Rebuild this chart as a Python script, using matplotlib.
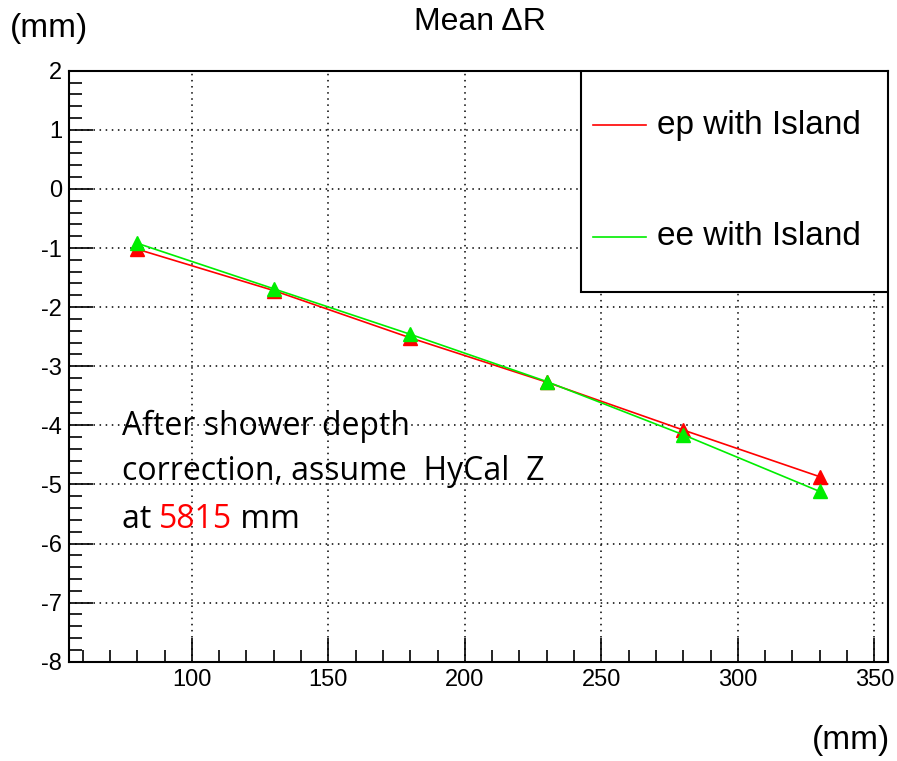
import numpy as np
import matplotlib.pyplot as plt
from matplotlib.lines import Line2D
from matplotlib.patches import Rectangle
from matplotlib.ticker import MultipleLocator

plt.rcParams['font.family'] = ['Liberation Sans', 'DejaVu Sans']
plt.rcParams['axes.unicode_minus'] = False

# data
dist = [80, 130, 180, 230, 280, 330]
ep_island = [-1.02, -1.72, -2.52, -3.27, -4.08, -4.87]
ee_island = [-0.92, -1.69, -2.46, -3.26, -4.16, -5.12]

fig = plt.figure(figsize=(8.97, 7.61), dpi=100)
ax = fig.add_axes([69/897, 1 - 661.7/761, 819/897, 591/761])

ax.plot(dist, ep_island, color='#ff0000', lw=1.2, marker='^', ms=10, mec='#ff0000', mfc='#ff0000', zorder=3)
ax.plot(dist, ee_island, color='#00ee00', lw=1.2, marker='^', ms=10, mec='#00ee00', mfc='#00ee00', zorder=4)

ax.set_xlim(55, 355)
ax.set_ylim(-8, 2)
ax.xaxis.set_major_locator(MultipleLocator(50))
ax.xaxis.set_minor_locator(MultipleLocator(10))
ax.yaxis.set_major_locator(MultipleLocator(1))
ax.yaxis.set_minor_locator(MultipleLocator(0.2))
ax.tick_params(which='both', direction='in', top=False, right=False, labelsize=17, width=1.2)
ax.tick_params(which='major', length=17, pad=5)
ax.tick_params(which='minor', length=9)
ax.grid(True, which='major', color='black', linestyle=(0, (1, 3)), lw=1.1)
for s in ax.spines.values():
    s.set_linewidth(1.5)

fig.text(480/897, 1 - 22/761, 'Mean ΔR', ha='center', va='center', fontsize=23)
fig.text(10/897, 1 - 28/761, '(mm)', ha='left', va='center', fontsize=24)
fig.text(890/897, 1 - 740/761, '(mm)', ha='right', va='center', fontsize=24)

# legend box, drawn like the ROOT one
ax.add_patch(Rectangle((0.625, 0.626), 0.375, 0.374, transform=ax.transAxes,
                       facecolor='white', edgecolor='black', lw=1.5, zorder=5))
for y, col, lab in [(0.908, '#ff0000', 'ep with Island'), (0.7187, '#00ee00', 'ee with Island')]:
    ax.add_line(Line2D([0.640, 0.7045], [y, y], transform=ax.transAxes, color=col, lw=1.2, zorder=6))
    ax.text(0.718, y, lab, transform=ax.transAxes, ha='left', va='center', fontsize=24, zorder=6)

# annotation text
note_font = dict(fontsize=23, family=['Open Sans', 'DejaVu Sans'])
x0 = 121.7 / 897
fig.text(x0, 1 - 435/761, 'After shower depth', ha='left', va='baseline', **note_font)
fig.text(x0, 1 - 480/761, 'correction, assume  HyCal  Z', ha='left', va='baseline', **note_font)
r = fig.canvas.get_renderer()
t1 = fig.text(x0, 1 - 528/761, 'at ', ha='left', va='baseline', **note_font)
w1 = t1.get_window_extent(r).width / 897
t2 = fig.text(x0 + w1, 1 - 528/761, '5815', ha='left', va='baseline', color='#ff0000', **note_font)
w2 = t2.get_window_extent(r).width / 897
fig.text(x0 + w1 + w2, 1 - 528/761, ' mm', ha='left', va='baseline', **note_font)

fig.savefig('out.png', dpi=100)
